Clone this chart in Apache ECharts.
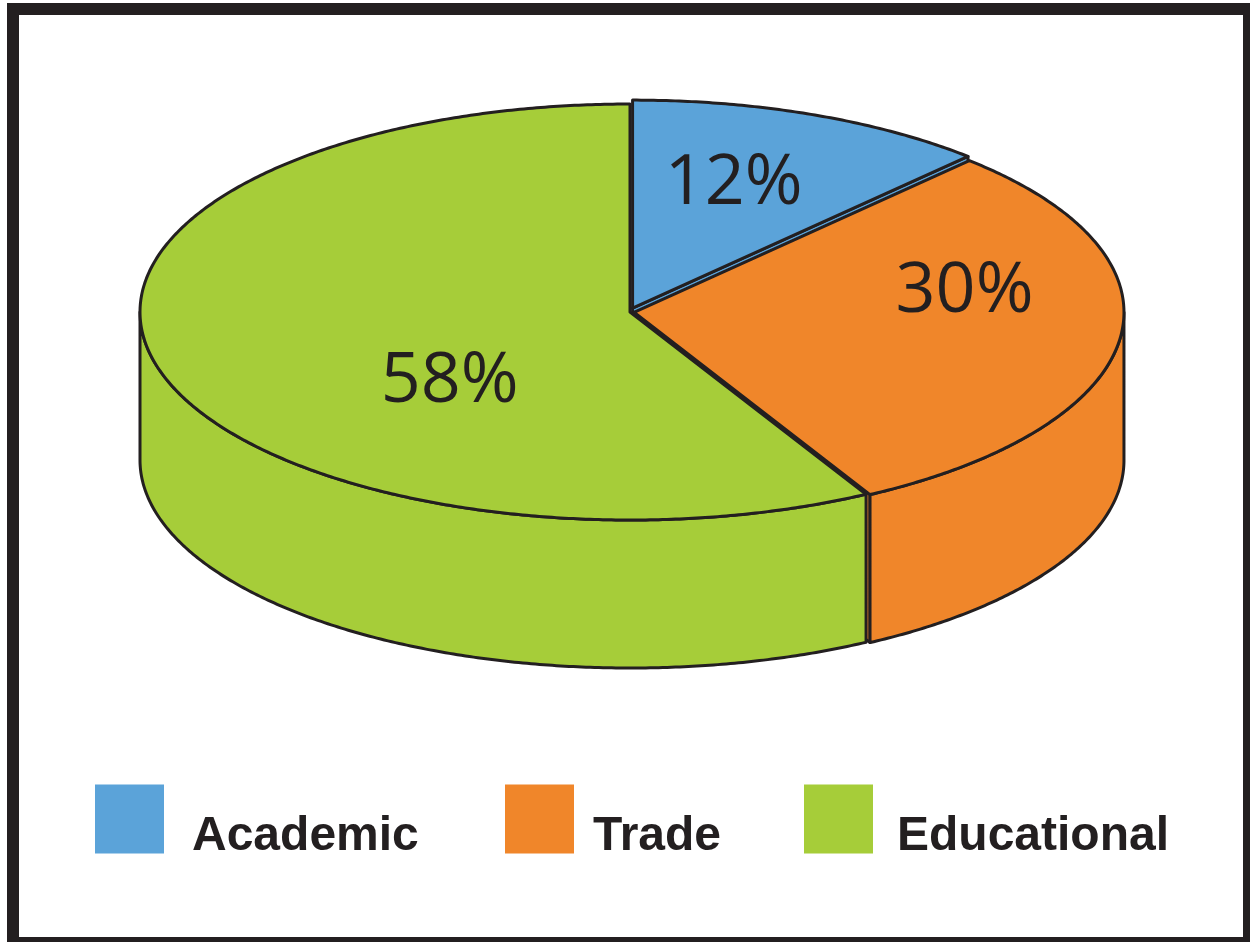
<!DOCTYPE html>
<html><head><meta charset="utf-8">
<script src="https://cdn.jsdelivr.net/npm/echarts@6/dist/echarts.min.js"></script>
<style>html,body{margin:0;padding:0;background:#fff}#c{width:1250px;height:942px}</style>
</head><body><div id="c"></div>
<script>
// ---- data ----
const categories = ['Academic', 'Trade', 'Educational'];
const values = [12, 30, 58];
const labelTexts = ['12%', '30%', '58%'];

// ---- style / layout ----
const colors = ['#5ba3d9', '#f0862a', '#a6cd39'];
const STROKE = '#231f20';
const CX = 630, CY = 312, RX = 490, RY = 208, DEPTH = 148;
const explode = [7, 4, 0];
const labelFrac = [0.56, 0.68, 0.38];
const labelDy = [-16, -38, 50];
const legendLeft = [95, 505, 804];
const legendTextPad = [23, 14, 19];

const total = values.reduce((a, b) => a + b, 0);
const startAngles = [];
let acc = 0;
values.forEach(v => { startAngles.push(90 - acc / total * 360); acc += v; });

const rad = d => d * Math.PI / 180;
function pt(theta, dx, dy, down) {
  return [CX + dx + RX * Math.cos(rad(theta)), CY + dy - RY * Math.sin(rad(theta)) + (down || 0)];
}
function arc(a, b, dx, dy, down) {
  const n = Math.max(2, Math.ceil(Math.abs(a - b) / 0.5) + 1);
  const pts = [];
  for (let k = 0; k < n; k++) pts.push(pt(a + (b - a) * k / (n - 1), dx, dy, down));
  return pts;
}

function renderItem(params, api) {
  const i = params.seriesIndex;
  const v = api.value(0);
  const a1 = startAngles[i];
  const a2 = a1 - v / total * 360;
  const mid = (a1 + a2) / 2;
  const dx = explode[i] * Math.cos(rad(mid));
  const dy = -explode[i] * Math.sin(rad(mid)) * 0.6;
  const col = colors[i];
  const children = [];
  const c = [CX + dx, CY + dy];
  const cd = [CX + dx, CY + dy + DEPTH];
  const baseStyle = { fill: col, stroke: STROKE, lineWidth: 3, lineJoin: 'round' };

  // radial cut faces (back-face culled)
  [[a1, true], [a2, false]].forEach(([th, isStart]) => {
    const cs = Math.cos(rad(th));
    const visible = isStart ? cs < -1e-6 : cs > 1e-6;
    if (!visible) return;
    const e = pt(th, dx, dy, 0), ed = pt(th, dx, dy, DEPTH);
    children.push({
      type: 'polygon', z2: 10 - Math.sin(rad(th)) * 5,
      shape: { points: [c, e, ed, cd] }, style: baseStyle
    });
  });

  // outer wall (front half only)
  for (let k = -1; k <= 1; k++) {
    const lo = Math.max(a2, -180 + 360 * k);
    const hi = Math.min(a1, 0 + 360 * k);
    if (hi - lo > 0.01) {
      const top = arc(hi, lo, dx, dy, 0);
      const bot = arc(lo, hi, dx, dy, DEPTH);
      children.push({
        type: 'polygon', z2: 20,
        shape: { points: top.concat(bot) }, style: baseStyle
      });
    }
  }

  // top face
  children.push({
    type: 'polygon', z2: 30,
    shape: { points: [c].concat(arc(a1, a2, dx, dy, 0)) }, style: baseStyle
  });

  // label
  const lp = [CX + dx + labelFrac[i] * RX * Math.cos(rad(mid)),
              CY + dy - labelFrac[i] * RY * Math.sin(rad(mid)) + labelDy[i]];
  children.push({
    type: 'text', z2: 40, x: lp[0], y: lp[1],
    style: {
      text: labelTexts[i], align: 'center', verticalAlign: 'middle',
      fontSize: 70, fontFamily: 'Open Sans, Noto Sans, sans-serif', fill: STROKE
    }
  });

  return { type: 'group', children };
}

const legendFont = {
  fontSize: 48, fontWeight: 'bold', fontFamily: 'Liberation Sans, Arial, sans-serif', color: STROKE
};

const chart = echarts.init(document.getElementById('c'), null, { renderer: 'canvas' });
chart.setOption({
  animation: false,
  backgroundColor: '#ffffff',
  color: colors,
  graphic: [{
    type: 'rect', shape: { x: 13, y: 9, width: 1236, height: 934 },
    style: { fill: 'none', stroke: STROKE, lineWidth: 12 }, z: 100
  }],
  legend: categories.map((name, i) => ({
    data: [name], left: legendLeft[i], top: 777, orient: 'horizontal',
    itemWidth: 69, itemHeight: 69, icon: 'rect', padding: 0, selectedMode: false,
    formatter: '{s| }{t|{name}}',
    textStyle: Object.assign({}, legendFont, {
      padding: [0, 0, 0, legendTextPad[i]],
      rich: {
        s: Object.assign({}, legendFont, { width: 0, lineHeight: 84, height: 84, verticalAlign: 'bottom' }),
        t: Object.assign({}, legendFont, { lineHeight: 58, verticalAlign: 'bottom' })
      }
    })
  })),
  series: categories.map((name, i) => ({
    type: 'custom', name, coordinateSystem: 'none',
    itemStyle: { color: colors[i] },
    renderItem, data: [[values[i]]]
  }))
});
</script></body></html>
